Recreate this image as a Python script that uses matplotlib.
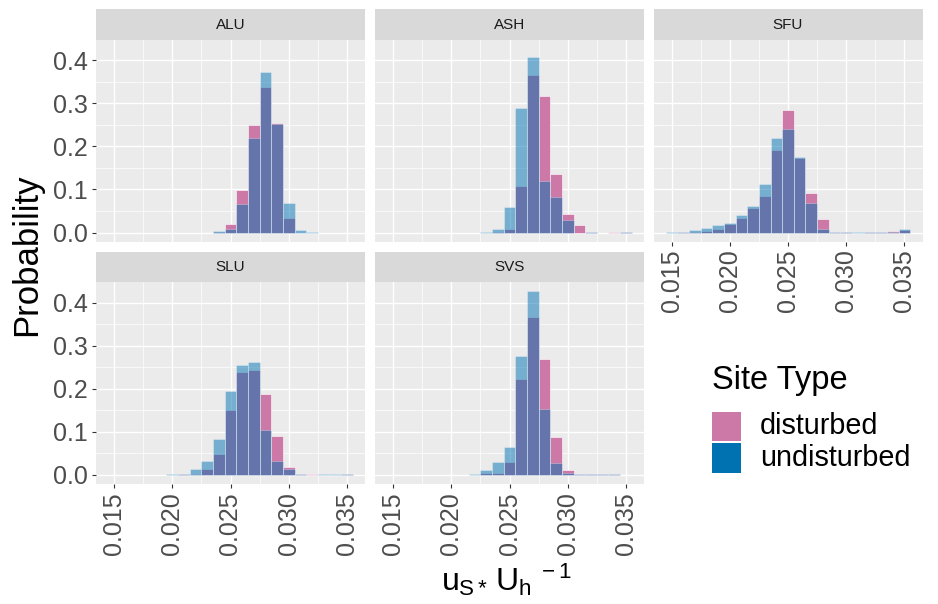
import matplotlib
matplotlib.use('Agg')
import matplotlib.pyplot as plt
from matplotlib.patches import Rectangle
import numpy as np

plt.rcParams['font.family'] = ['Liberation Sans', 'DejaVu Sans']
plt.rcParams['mathtext.fontset'] = 'custom'
plt.rcParams['mathtext.rm'] = 'Liberation Sans'
plt.rcParams['mathtext.it'] = 'Liberation Sans'
plt.rcParams['mathtext.bf'] = 'Liberation Sans:bold'

# ---------------- data ----------------
bins = [0.015, 0.016, 0.017, 0.018, 0.019, 0.020, 0.021, 0.022, 0.023, 0.024,
        0.025, 0.026, 0.027, 0.028, 0.029, 0.030, 0.031, 0.032, 0.033, 0.034, 0.035]

site_names = ['ALU', 'ASH', 'SFU', 'SLU', 'SVS']
site_types = ['disturbed', 'undisturbed']

#             .015  .016  .017  .018  .019  .020  .021  .022  .023  .024  .025  .026  .027  .028  .029  .030  .031  .032  .033  .034  .035
alu_dist = [0, 0, 0, 0, 0, 0, 0, 0, 0, 0.002, 0.019, 0.099, 0.249, 0.337, 0.254, 0.034, 0, 0, 0, 0, 0]
alu_und  = [0, 0, 0, 0, 0, 0, 0, 0, 0, 0.003, 0.008, 0.067, 0.220, 0.373, 0.251, 0.068, 0.007, 0.001, 0, 0, 0]

ash_dist = [0, 0, 0, 0, 0, 0, 0, 0, 0, 0.002, 0.009, 0.109, 0.365, 0.318, 0.135, 0.043, 0.017, 0.001, 0, 0.001, 0.001]
ash_und  = [0, 0, 0, 0, 0, 0, 0, 0, 0.001, 0.008, 0.060, 0.290, 0.408, 0.120, 0.083, 0.029, 0, 0.001, 0, 0, 0.001]

sfu_dist = [0, 0.001, 0.002, 0.003, 0.009, 0.019, 0.034, 0.057, 0.085, 0.192, 0.285, 0.172, 0.093, 0.032, 0.002, 0.001, 0, 0.001, 0.002, 0.003, 0.006]
sfu_und  = [0.001, 0.002, 0.006, 0.011, 0.017, 0.023, 0.040, 0.062, 0.112, 0.219, 0.240, 0.176, 0.068, 0.008, 0.002, 0.001, 0.001, 0.002, 0.001, 0.002, 0.009]

slu_dist = [0, 0, 0, 0, 0, 0, 0.001, 0.002, 0.013, 0.048, 0.151, 0.240, 0.244, 0.188, 0.090, 0.019, 0.002, 0.001, 0, 0, 0.001]
slu_und  = [0, 0, 0.0005, 0.0005, 0.0005, 0.001, 0.002, 0.013, 0.032, 0.084, 0.194, 0.255, 0.262, 0.103, 0.033, 0.014, 0.002, 0, 0.001, 0.001, 0.001]

svs_dist = [0, 0, 0, 0, 0, 0, 0, 0, 0.004, 0.005, 0.029, 0.223, 0.366, 0.269, 0.089, 0.012, 0.001, 0.001, 0.001, 0.001, 0]
svs_und  = [0, 0, 0, 0, 0, 0, 0, 0.001, 0.012, 0.029, 0.064, 0.276, 0.426, 0.152, 0.027, 0.005, 0.001, 0.001, 0.001, 0.001, 0.0005]

x_ticks = [0.015, 0.020, 0.025, 0.030, 0.035]
x_tick_labels = ['0.015', '0.020', '0.025', '0.030', '0.035']
y_ticks = [0.0, 0.1, 0.2, 0.3, 0.4]
y_tick_labels = ['0.0', '0.1', '0.2', '0.3', '0.4']

# ---------------- style ----------------
W, H = 938, 604
col_dist = '#CC79A7'
col_und = '#0072B2'
bg = '#EBEBEB'
strip_bg = '#D9D9D9'

fig = plt.figure(figsize=(W / 100, H / 100), dpi=100)
fig.patch.set_facecolor('white')


def rect(x0, y0, x1, y1):
    return [x0 / W, 1 - y1 / H, (x1 - x0) / W, (y1 - y0) / H]


cols = [(96, 365), (375, 644), (653.5, 922.5)]
rows = [((9.3, 40), (40, 241.7)), ((251.7, 282.3), (282.3, 484))]

layout = {'ALU': (0, 0), 'ASH': (0, 1), 'SFU': (0, 2), 'SLU': (1, 0), 'SVS': (1, 1)}
series = {'ALU': (alu_dist, alu_und), 'ASH': (ash_dist, ash_und), 'SFU': (sfu_dist, sfu_und),
          'SLU': (slu_dist, slu_und), 'SVS': (svs_dist, svs_und)}

ymax = max(max(v) for pair in series.values() for v in pair)
ypad = 0.05 * ymax
xlo, xhi = bins[0] - 0.0005, bins[-1] + 0.0005
xpad = 0.05 * (xhi - xlo)

b = np.array(bins)
for name in site_names:
    r, c = layout[name]
    (sy0, sy1), (py0, py1) = rows[r]
    x0, x1 = cols[c]
    ax = fig.add_axes(rect(x0, py0, x1, py1))
    ax.set_facecolor(bg)
    for s in ax.spines.values():
        s.set_visible(False)
    ax.set_xlim(xlo - xpad, xhi + xpad)
    ax.set_ylim(-ypad, ymax + ypad)
    ax.set_xticks(x_ticks)
    ax.set_xticklabels(x_tick_labels, rotation=90)
    ax.set_xticks([0.0175, 0.0225, 0.0275, 0.0325], minor=True)
    ax.set_yticks(y_ticks)
    ax.set_yticklabels(y_tick_labels)
    ax.set_yticks([0.05, 0.15, 0.25, 0.35], minor=True)
    ax.grid(which='major', color='white', linewidth=1.0)
    ax.grid(which='minor', color='white', linewidth=0.5)
    ax.set_axisbelow(True)
    ax.tick_params(which='minor', length=0)
    ax.tick_params(which='major', length=3.2, width=0.8, color='#333333',
                   labelsize=18, labelcolor='#4D4D4D', pad=2.5)
    if c != 0:
        ax.tick_params(axis='y', left=False, labelleft=False)
    bottom_of_col = (r == 1) or (c == 2)
    if not bottom_of_col:
        ax.tick_params(axis='x', bottom=False, labelbottom=False)

    d = np.array(series[name][0])
    u = np.array(series[name][1])
    m = d > 0
    ax.bar(b[m], d[m], width=0.001, color=col_dist, edgecolor='white', linewidth=0.4)
    m = u > 0
    ax.bar(b[m], u[m], width=0.001, color=col_und, alpha=0.5, edgecolor='white', linewidth=0.4)

    sax = fig.add_axes(rect(x0, sy0, x1, sy1))
    sax.set_facecolor(strip_bg)
    sax.set_xticks([])
    sax.set_yticks([])
    for s in sax.spines.values():
        s.set_visible(False)
    sax.text(0.5, 0.5, name, ha='center', va='center', fontsize=11, color='#1A1A1A',
             transform=sax.transAxes)

# axis titles
fig.text(27 / W, 1 - 255 / H, 'Probability', rotation=90, fontsize=25,
         ha='center', va='center', color='black')
fig.text(507 / W, 1 - 580 / H, r'$u_{S*}\,{U_h}^{\ -1}$', fontsize=23,
         ha='center', va='center', color='black')

# legend
fig.text(711.7 / W, 1 - 389 / H, 'Site Type', fontsize=23.5, ha='left', va='baseline')
keys = [(col_dist, 411.7, 'disturbed'), (col_und, 443.2, 'undisturbed')]
for col, ky, lab in keys:
    fig.add_artist(Rectangle((711.7 / W, 1 - (ky + 29.3) / H), 29.3 / W, 29.3 / H,
                             transform=fig.transFigure, facecolor=col, edgecolor='none'))
    fig.text(760 / W, 1 - (ky + 14.6) / H, lab, fontsize=20.7, ha='left', va='center')

fig.savefig('out.png', dpi=100)
